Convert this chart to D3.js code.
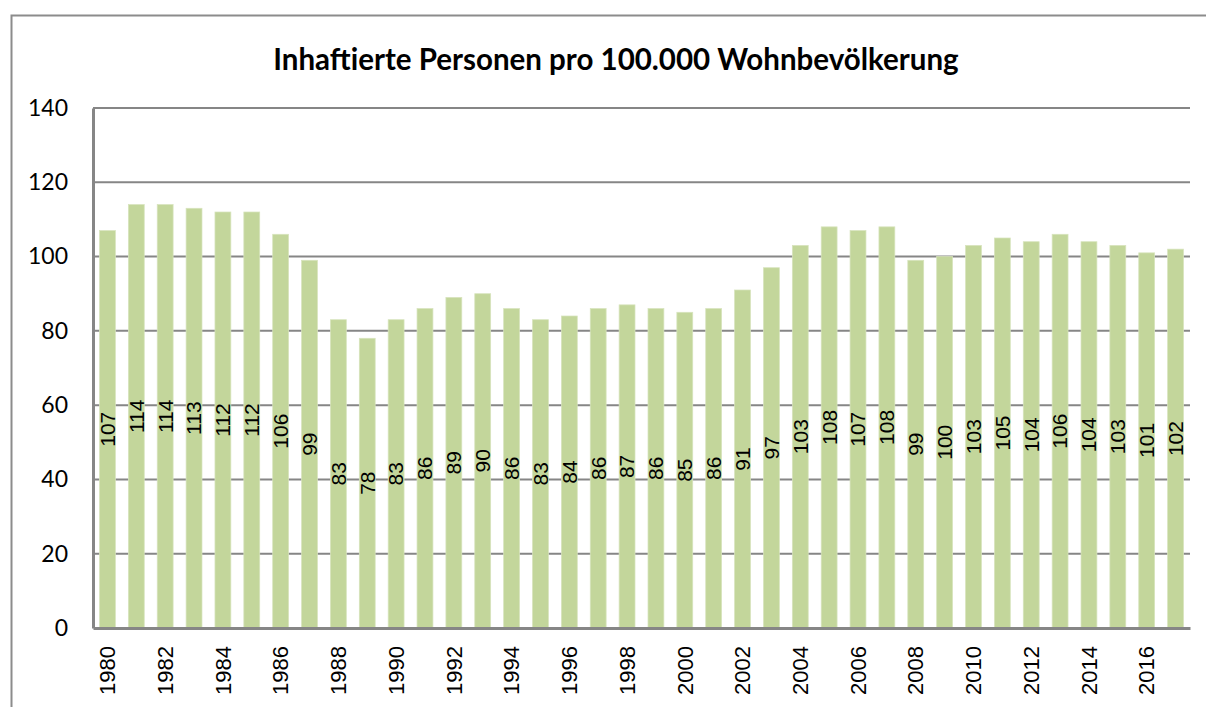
<!DOCTYPE html>
<html>
<head>
<meta charset="utf-8">
<script src="https://cdn.jsdelivr.net/npm/d3@7"></script>
<style>
  body { margin: 0; background: #fff; }
  svg { display: block; }
</style>
</head>
<body>
<svg id="chart" width="1206" height="707"></svg>
<script>
const title = "Inhaftierte Personen pro 100.000 Wohnbevölkerung";
const years = d3.range(1980, 2018);
const values = [107, 114, 114, 113, 112, 112, 106, 99, 83, 78, 83, 86, 89, 90, 86, 83, 84, 86, 87, 86,
                85, 86, 91, 97, 103, 108, 107, 108, 99, 100, 103, 105, 104, 106, 104, 103, 101, 102];
const yTicks = [0, 20, 40, 60, 80, 100, 120, 140];
const xTickYears = years.filter(y => y % 2 === 0);

const data = years.map((y, i) => ({year: y, value: values[i]}));

const margin = {top: 108, right: 16, bottom: 79, left: 93};
const width = 1206 - margin.left - margin.right;
const height = 707 - margin.top - margin.bottom;

const svg = d3.select("#chart");

// outer chart border
svg.append("rect")
   .attr("x", 11.5).attr("y", 15.5)
   .attr("width", 1300).attr("height", 800)
   .attr("fill", "none")
   .attr("stroke", "#8c8c8c")
   .attr("stroke-width", 2);

svg.append("text")
   .attr("x", 616).attr("y", 70)
   .attr("text-anchor", "middle")
   .style("font-family", "Lato, 'Noto Sans', sans-serif")
   .style("font-weight", "bold")
   .style("font-size", "29.5px")
   .text(title);

const chart = svg.append("g")
                 .attr("transform", "translate(" + margin.left + "," + margin.top + ")");

const x = d3.scaleBand().domain(years).range([0, width]).paddingInner(0.45).paddingOuter(0.225);
const y = d3.scaleLinear().domain([0, 140]).range([height, 0]);

// gridlines
chart.append("g")
     .selectAll("line")
     .data(yTicks.filter(t => t > 0))
     .enter().append("line")
       .attr("x1", 0).attr("x2", width)
       .attr("y1", d => y(d)).attr("y2", d => y(d))
       .attr("stroke", "#868686")
       .attr("stroke-width", 2);

// bars
chart.selectAll(".bar")
     .data(data)
     .enter().append("rect")
       .attr("class", "bar")
       .attr("x", d => x(d.year))
       .attr("y", d => y(d.value))
       .attr("width", x.bandwidth())
       .attr("height", d => height - y(d.value))
       .attr("fill", "#c3d69b")
       .attr("stroke", "#d7e4bd")
       .attr("stroke-width", 0.75);

// value labels, rotated, centred in bar
chart.selectAll(".val")
     .data(data)
     .enter().append("text")
       .attr("class", "val")
       .attr("transform", d => "translate(" + (x(d.year) + x.bandwidth() / 2) + "," + ((y(d.value) + height) / 2) + ") rotate(-90)")
       .attr("text-anchor", "middle")
       .attr("dy", "0.35em")
       .style("font-family", "'Liberation Sans', Arial, sans-serif")
       .style("font-size", "21px")
       .text(d => d.value);

// y axis
const yAxis = chart.append("g")
     .call(d3.axisLeft(y).tickValues(yTicks).tickSize(0).tickPadding(25));
yAxis.select(".domain").attr("stroke", "#868686").attr("stroke-width", 3);
yAxis.selectAll("text")
     .style("font-family", "Lato, 'Noto Sans', sans-serif")
     .style("font-size", "23px")
     .attr("fill", "#000");

// x axis
const xAxis = chart.append("g")
     .attr("transform", "translate(0," + height + ")")
     .call(d3.axisBottom(x).tickValues(xTickYears).tickSize(0).tickSizeOuter(0));
xAxis.select(".domain").attr("stroke", "#868686").attr("stroke-width", 3);
xAxis.selectAll("text")
     .attr("transform", "rotate(-90)")
     .attr("x", -18).attr("y", 0)
     .attr("dy", "0.35em")
     .style("text-anchor", "end")
     .style("font-family", "'Liberation Sans', Arial, sans-serif")
     .style("font-size", "22px")
     .attr("fill", "#000");
</script>
</body>
</html>
